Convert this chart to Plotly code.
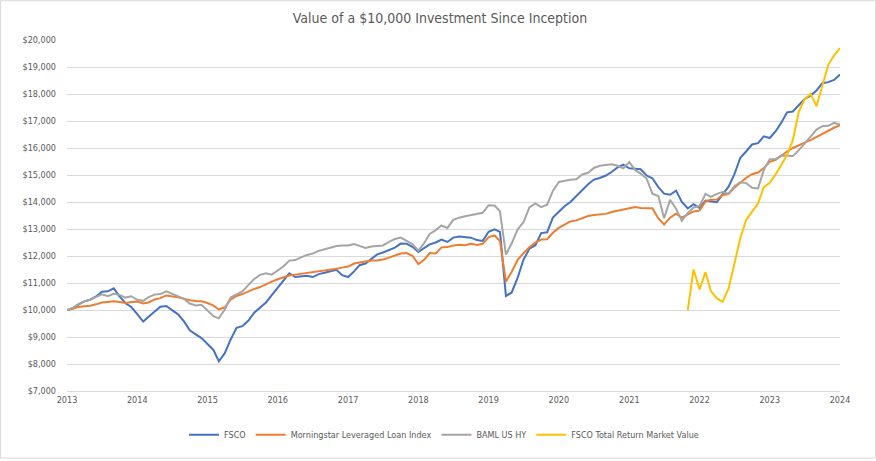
import pandas as pd
import plotly.graph_objects as go

months = pd.date_range("2013-01-01", periods=133, freq="MS")

fsco = [
    10000, 10050, 10200, 10320, 10380, 10500, 10680, 10690, 10800, 10500,
    10250, 10110, 9850, 9570, 9750, 9940, 10120, 10150, 10000, 9840,
    9580, 9250, 9100, 8960, 8740, 8520, 8100, 8400, 8900, 9340,
    9400, 9600, 9900, 10100, 10280, 10550, 10820, 11090, 11360, 11220,
    11250, 11270, 11220, 11330, 11380, 11430, 11490, 11290, 11220, 11430,
    11660, 11720, 11890, 12060, 12130, 12210, 12310, 12460, 12450, 12340,
    12150, 12300, 12430, 12500, 12610, 12520, 12680, 12720, 12700, 12680,
    12590, 12560, 12900, 12990, 12890, 10520, 10650, 11200, 11860, 12270,
    12400, 12850, 12880, 13420, 13640, 13850, 14000, 14220, 14450, 14660,
    14830, 14890, 14980, 15110, 15280, 15380, 15250, 15240, 15210, 14980,
    14880, 14550, 14310, 14270, 14420, 14000, 13760, 13920, 13780, 14050,
    14020, 13990, 14280, 14570, 15020, 15640, 15880, 16130, 16180, 16430,
    16370, 16620, 16930, 17320, 17350, 17580, 17810, 17940, 18130, 18400,
    18440, 18520, 18720,
]

morningstar = [
    10000, 10070, 10110, 10140, 10160, 10210, 10280, 10300, 10320, 10300,
    10260, 10300, 10310, 10240, 10280, 10390, 10440, 10540, 10510, 10470,
    10420, 10360, 10330, 10320, 10260, 10160, 10020, 10100, 10380, 10520,
    10590, 10700, 10780, 10850, 10960, 11050, 11140, 11210, 11280, 11310,
    11340, 11370, 11400, 11420, 11450, 11490, 11530, 11570, 11610, 11720,
    11760, 11800, 11830, 11830, 11870, 11940, 12020, 12090, 12110, 12010,
    11700, 11870, 12110, 12090, 12320, 12330, 12390, 12420, 12400, 12450,
    12410, 12450, 12700, 12760, 12550, 11050, 11420, 11860, 12100, 12320,
    12500, 12610, 12620, 12860, 13040, 13170, 13280, 13320, 13400, 13480,
    13520, 13530, 13560, 13630, 13680, 13720, 13780, 13810, 13780, 13780,
    13770, 13390, 13170, 13420, 13570, 13420, 13530, 13650, 13680, 14020,
    14080, 14090, 14260, 14290, 14530, 14730, 14900, 15030, 15090, 15260,
    15490, 15560, 15710, 15870, 16000, 16110, 16200, 16290, 16410, 16520,
    16640, 16750, 16850,
]

baml = [
    10000, 10090, 10220, 10320, 10380, 10480, 10580, 10510, 10600, 10560,
    10460, 10510, 10380, 10340, 10480, 10570, 10590, 10690, 10600, 10490,
    10410, 10240, 10170, 10190, 9980, 9770, 9690, 10020, 10460, 10590,
    10690, 10920, 11150, 11300, 11360, 11310, 11450, 11620, 11830, 11850,
    11950, 12040, 12090, 12190, 12250, 12300, 12370, 12390, 12390, 12440,
    12370, 12300, 12350, 12360, 12390, 12520, 12630, 12680, 12570, 12440,
    12200, 12490, 12820, 12960, 13130, 13040, 13340, 13420, 13470, 13520,
    13550, 13600, 13880, 13870, 13650, 12050, 12470, 12990, 13250, 13800,
    13950, 13810, 13900, 14410, 14740, 14790, 14820, 14840, 15020, 15080,
    15260, 15340, 15380, 15400, 15340, 15250, 15480, 15180, 15050, 14870,
    14310, 14220, 13400, 14080, 13750, 13300, 13600, 13800, 13850, 14300,
    14190, 14300, 14370, 14310, 14580, 14730, 14700, 14530, 14500, 15190,
    15580, 15590, 15720, 15700, 15700, 15920, 16150, 16420, 16680, 16810,
    16820, 16930, 16870,
]

# FSCO total return (market value) starts in Nov 2021 (month index 106)
fsco_tr_start = 106
fsco_tr = [
    10000, 11500, 10760, 11400, 10700, 10430, 10300, 10800, 11700, 12670,
    13350, 13640, 13940, 14550, 14710, 15030, 15360, 15740, 16300, 17350,
    17800, 18000, 17550, 18300, 19080, 19420, 19700,
]

series_names = ["FSCO", "Morningstar Leveraged Loan Index", "BAML US HY",
                "FSCO Total Return Market Value"]
series_colors = ["#4472C4", "#ED7D31", "#A5A5A5", "#FFC000"]
year_ticks = list(range(2013, 2025))

FONT = "Liberation Sans Narrow, DejaVu Sans Condensed, Arial Narrow, sans-serif"
TXT = "#595959"

fig = go.Figure()
all_y = [fsco, morningstar, baml, fsco_tr]
all_x = [months, months, months, months[fsco_tr_start:]]
for name, color, xs, ys in zip(series_names, series_colors, all_x, all_y):
    fig.add_trace(go.Scatter(x=xs, y=ys, mode="lines", name=name,
                             line=dict(color=color, width=2)))

W, H = 876, 461
L, R, T, B = 67, 36, 40, 68
pw, ph = W - L - R, H - T - B

fig.update_layout(
    width=W, height=H,
    margin=dict(l=L, r=R, t=T, b=B),
    paper_bgcolor="white", plot_bgcolor="white",
    font=dict(family=FONT, color=TXT, size=9),
    title=dict(text="Value of a $10,000 Investment Since Inception",
               x=(440 - L) / pw, xref="paper", xanchor="center",
               y=1 - 18 / H, yanchor="middle",
               font=dict(family=FONT, size=14, color=TXT)),
    showlegend=True,
    legend=dict(orientation="h", x=(444 - L) / pw, xanchor="center",
                y=(T + ph - 437) / ph, yanchor="middle",
                font=dict(family=FONT, size=9, color=TXT),
                itemwidth=30, bgcolor="rgba(0,0,0,0)"),
    xaxis=dict(type="date",
               range=[f"{year_ticks[0]}-01-01", f"{year_ticks[-1]}-01-01"],
               tickvals=[f"{y}-01-01" for y in year_ticks],
               ticktext=[str(y) for y in year_ticks],
               showgrid=False, zeroline=False, ticks="",
               showline=True, linecolor="#D9D9D9", linewidth=1,
               tickfont=dict(family=FONT, size=9, color=TXT)),
    yaxis=dict(range=[7000, 20000], dtick=1000, tick0=7000,
               tickprefix="$", tickformat=",d",
               showgrid=True, gridcolor="#D9D9D9", gridwidth=1,
               zeroline=False, showline=False, ticks="",
               ticklabelstandoff=10,
               tickfont=dict(family=FONT, size=9, color=TXT)),
    shapes=[dict(type="rect", xref="paper", yref="paper",
                 x0=(0.5 - L) / pw, x1=(W - 0.5 - L) / pw,
                 y0=(T + ph - (H - 0.5)) / ph, y1=(T + ph - 0.5) / ph,
                 line=dict(color="#D9D9D9", width=1), layer="below")],
)

fig.write_html("out.html", config={"displayModeBar": False},
               post_script="document.body.style.margin='0';document.body.style.padding='0';")
